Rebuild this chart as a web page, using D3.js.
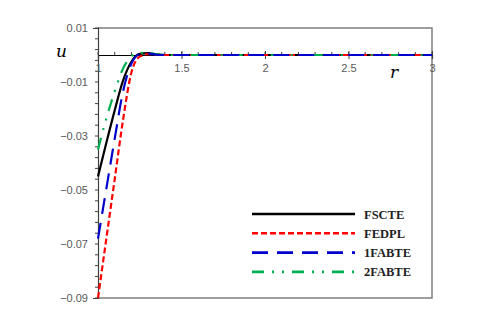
<!DOCTYPE html>
<html>
<head>
<meta charset="utf-8">
<script src="https://cdn.jsdelivr.net/npm/d3@7"></script>
<style>
  body { margin: 0; background: #fff; }
  svg { display: block; }
</style>
</head>
<body>
<svg id="chart" width="495" height="321"></svg>
<script>
// radial coordinate samples
var rVals = [1, 1.05, 1.1, 1.15, 1.2, 1.25, 1.3, 1.35, 1.4, 1.5, 2, 2.5, 3];
// displacement u for each model
var fscte  = [-0.045, -0.0325, -0.0205, -0.0095, -0.0025, 0.0004, 0.0007, 0.0002, 0, 0, 0, 0, 0];
var fedpl  = [-0.09, -0.068, -0.046, -0.024, -0.0065, -0.0006, 0.0003, 0.0002, 0, 0, 0, 0, 0];
var fabte1 = [-0.068, -0.0495, -0.031, -0.0135, -0.0032, 0.0003, 0.0005, 0.0001, 0, 0, 0, 0, 0];
var fabte2 = [-0.035, -0.0235, -0.0135, -0.005, -0.0005, 0.0008, 0.0008, 0.0003, 0, 0, 0, 0, 0];
var seriesNames = ['FSCTE', 'FEDPL', '1FABTE', '2FABTE'];
var xTickVals = [1, 1.5, 2, 2.5, 3];
var yTickVals = [0.01, -0.01, -0.03, -0.05, -0.07, -0.09];

var svg = d3.select('#chart');

var x = d3.scaleLinear().domain([1, 3]).range([98, 432]);
var y = d3.scaleLinear().domain([-0.09, 0.01]).range([298, 28]);

var styles = [
  { color: '#000000', width: 2.2, dash: null },
  { color: '#ff0000', width: 2.2, dash: '6,3' },
  { color: '#0000cc', width: 2.2, dash: '16,9' },
  { color: '#00b050', width: 2.2, dash: '12,8,2,8,2,8' }
];
var allSeries = [fscte, fedpl, fabte1, fabte2];

// plot frame (top / right / bottom)
svg.append('path')
  .attr('d', 'M' + x(1) + ',' + y(0.01) + 'H' + x(3) + 'V' + y(-0.09) + 'H' + x(1))
  .attr('fill', 'none')
  .attr('stroke', '#7f7f7f')
  .attr('stroke-width', 1.5);

// y axis with minor ticks
var yMinor = d3.range(0, 26).map(function(i) { return 0.01 - i * 0.004; });
svg.append('g').attr('id', 'yMinor')
  .selectAll('line').data(yMinor).enter().append('line')
  .attr('x1', x(1) - 3).attr('x2', x(1) + 1)
  .attr('y1', function(d) { return y(d); })
  .attr('y2', function(d) { return y(d); })
  .attr('stroke', '#404040').attr('stroke-width', 1);

svg.append('g')
  .attr('transform', 'translate(' + x(1) + ',0)')
  .call(d3.axisLeft(y).tickValues(yTickVals).tickSize(5).tickFormat(d3.format('.2f')))
  .call(function(g) {
    g.select('.domain').attr('stroke', '#404040').attr('stroke-width', 1.2);
    g.selectAll('.tick line').attr('stroke', '#404040').attr('x2', 1);
    g.selectAll('.tick text')
      .attr('fill', '#595959')
      .attr('font-family', 'Liberation Sans, Arial, sans-serif')
      .attr('font-size', 11)
      .attr('x', -10)
      .text(function(d) { return d3.format('.2f')(d).replace(/^(-?)0\./, '$10.'); });
  });

// x axis at u = 0
var xMinor = d3.range(0, 21).map(function(i) { return 1 + i * 0.1; });
svg.append('g').attr('id', 'xMinor')
  .selectAll('line').data(xMinor).enter().append('line')
  .attr('x1', function(d) { return x(d); })
  .attr('x2', function(d) { return x(d); })
  .attr('y1', y(0) - 3).attr('y2', y(0))
  .attr('stroke', '#404040').attr('stroke-width', 1);

svg.append('g')
  .attr('transform', 'translate(0,' + y(0) + ')')
  .call(d3.axisBottom(x).tickValues(xTickVals).tickSize(4).tickFormat(d3.format('')))
  .call(function(g) {
    g.select('.domain').attr('stroke', '#000').attr('stroke-width', 1.2);
    g.selectAll('.tick line').attr('stroke', '#404040').attr('y1', -4);
    g.selectAll('.tick text')
      .attr('fill', '#595959')
      .attr('font-family', 'Liberation Sans, Arial, sans-serif')
      .attr('font-size', 11)
      .attr('y', 9);
  });

// curves
var line = d3.line()
  .x(function(d, i) { return x(rVals[i]); })
  .y(function(d) { return y(d); })
  .curve(d3.curveMonotoneX);

var curves = svg.append('g').attr('id', 'curves');
[0, 1, 3, 2].forEach(function(k) {
  curves.append('path')
    .attr('d', line(allSeries[k]))
    .attr('fill', 'none')
    .attr('stroke', styles[k].color)
    .attr('stroke-width', styles[k].width)
    .attr('stroke-dasharray', styles[k].dash);
});

// axis titles
svg.append('text')
  .attr('x', 56).attr('y', 57)
  .attr('font-family', 'DejaVu Serif, serif')
  .attr('font-style', 'italic')
  .attr('font-size', 17)
  .text('u');
svg.append('text')
  .attr('x', 390).attr('y', 78)
  .attr('font-family', 'DejaVu Serif, serif')
  .attr('font-style', 'italic')
  .attr('font-size', 17)
  .text('r');

// legend
var legend = svg.append('g').attr('id', 'legend');
seriesNames.forEach(function(name, i) {
  var ly = 214 + i * 19.3;
  legend.append('line')
    .attr('x1', 252).attr('x2', 355)
    .attr('y1', ly).attr('y2', ly)
    .attr('stroke', styles[i].color)
    .attr('stroke-width', 2.6)
    .attr('stroke-dasharray', styles[i].dash);
  legend.append('text')
    .attr('x', 364).attr('y', ly + 4.5)
    .attr('font-family', 'Liberation Serif, serif')
    .attr('font-weight', 'bold')
    .attr('font-size', 12.5)
    .attr('fill', '#222')
    .text(name);
});
</script>
</body>
</html>
